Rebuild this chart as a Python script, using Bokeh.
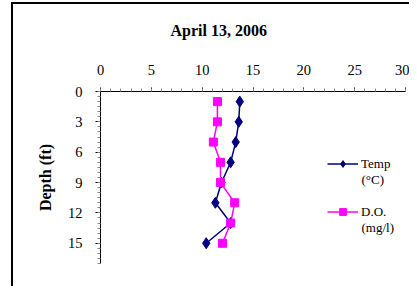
from bokeh.plotting import figure
from bokeh.models import Range1d, FixedTicker, Legend, LegendItem, Label
from bokeh.embed import file_html
from bokeh.resources import INLINE

# ---- data ----
depth = [1, 3, 5, 7, 9, 11, 13, 15]
temp = [13.7, 13.6, 13.3, 12.8, 11.9, 11.3, 12.8, 10.4]
do_mgl = [11.5, 11.5, 11.1, 11.8, 11.8, 13.2, 12.8, 12.0]
x_ticks = [0, 5, 10, 15, 20, 25, 30]
y_ticks = [0, 3, 6, 9, 12, 15]
title_text = "April 13, 2006"
y_label = "Depth (ft)"
series_names = ["Temp", "D.O."]
series_units = ["(°C)", "(mg/l)"]

SERIF = "Liberation Serif"
NAVY = "#000080"
MAGENTA = "#FF00FF"

p = figure(width=409, height=286, output_backend="svg", toolbar_location=None,
           x_range=Range1d(0, 30), y_range=Range1d(17, 0),
           x_axis_location="above",
           min_border_left=100, min_border_right=4,
           min_border_top=91, min_border_bottom=23)

p.styles = {
    "background": "linear-gradient(#000,#000) 11px 2px / 2px 100% no-repeat, "
                  "linear-gradient(#000,#000) 11px 2px / 100% 2px no-repeat, #fff",
}

p.title.text = title_text
p.title.align = "left"
p.title.vertical_align = "top"
p.title.text_font = SERIF
p.title.text_font_size = "16px"
p.title.text_font_style = "bold"
p.title.text_color = "black"
p.title.text_line_height = 0.8
p.title.standoff = 42
p.title.offset = 70

p.grid.visible = False
p.outline_line_color = None
p.background_fill_color = "white"
p.border_fill_color = None

xa = p.xaxis[0]
xa.ticker = FixedTicker(ticks=x_ticks, minor_ticks=list(range(0, 31)))
ya = p.yaxis[0]
ya.ticker = FixedTicker(ticks=y_ticks, minor_ticks=[i * 0.5 for i in range(0, 35)])

for ax in (xa, ya):
    ax.major_label_text_font = SERIF
    ax.major_label_text_font_size = "14.5px"
    ax.major_label_text_color = "black"
    ax.axis_line_color = "black"
    ax.axis_line_width = 1
    ax.major_tick_in = 0
    ax.minor_tick_in = 0
    ax.major_tick_line_color = "black"
    ax.minor_tick_line_color = "#888888"

xa.major_tick_out = 4
xa.minor_tick_out = 3
xa.major_label_standoff = 13
ya.major_tick_out = 5
ya.minor_tick_out = 3
ya.major_label_standoff = 13

ya.axis_label = y_label
ya.axis_label_text_font = SERIF
ya.axis_label_text_font_size = "16px"
ya.axis_label_text_font_style = "bold"
ya.axis_label_text_color = "black"
ya.axis_label_standoff = 11

l1 = p.line(temp, depth, line_color=NAVY, line_width=1.5)
m1 = p.scatter(temp, depth, marker="diamond", size=11, fill_color=NAVY, line_color=NAVY)
l2 = p.line(do_mgl, depth, line_color=MAGENTA, line_width=1.5)
m2 = p.scatter(do_mgl, depth, marker="square", size=8, fill_color=MAGENTA, line_color=MAGENTA)

legend = Legend(items=[LegendItem(label=series_names[0], renderers=[l1, m1]),
                       LegendItem(label=series_names[1], renderers=[l2, m2])],
                location=(227, 43))
legend.border_line_color = None
legend.background_fill_alpha = 0
legend.padding = 0
legend.margin = 0
legend.spacing = 31
legend.glyph_width = 31
legend.glyph_height = 17
legend.label_height = 17
legend.label_standoff = 3
legend.label_text_font = SERIF
legend.label_text_font_size = "13px"
legend.label_text_color = "black"
p.add_layout(legend)

# unit lines under the legend names (data coordinates)
for unit, yv in zip(series_units, [8.65, 13.45]):
    p.add_layout(Label(x=25.67, y=yv, text=unit, text_font=SERIF,
                       text_font_size="13px", text_color="black",
                       text_baseline="middle", text_align="left"))

open("out.html", "w").write(file_html(p, INLINE))
